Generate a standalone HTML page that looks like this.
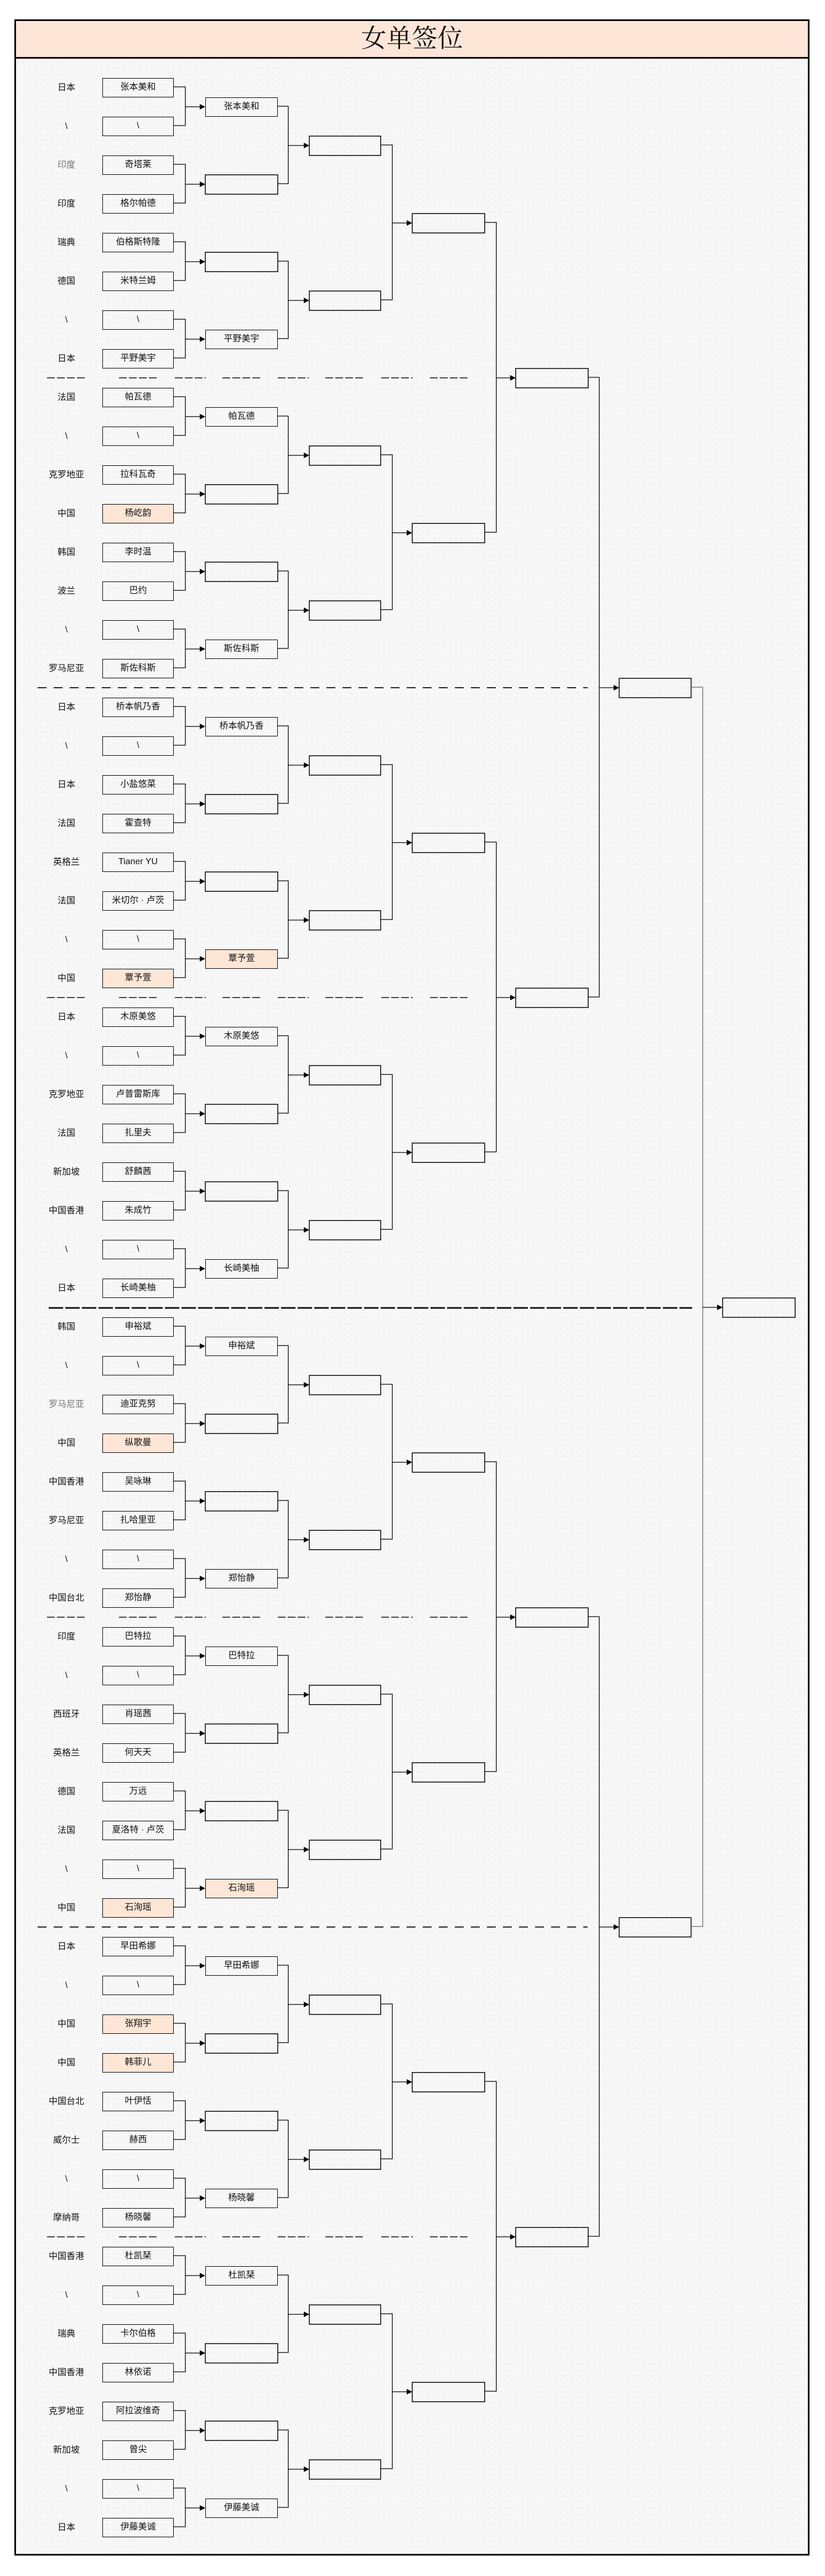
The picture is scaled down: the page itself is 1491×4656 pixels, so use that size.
<!DOCTYPE html>
<html><head><meta charset="utf-8">
<style>
html,body{margin:0;padding:0;background:#fff;}
body{width:1491px;height:4656px;position:relative;overflow:hidden;font-family:"Liberation Sans","Noto Sans CJK SC",sans-serif;}
.frame{position:absolute;left:26px;top:35px;width:1437px;height:4584px;border:3px solid #000;box-sizing:border-box;background-color:#f7f7f7;background-image:radial-gradient(#e2e2e2 0.7px,transparent 0.9px);background-size:10px 10px;}
.header{position:absolute;left:26px;top:35px;width:1437px;height:71px;border:3px solid #000;box-sizing:border-box;background:#fde5d8;text-align:center;font-family:"Liberation Serif","Noto Serif CJK SC",serif;font-size:46px;line-height:64px;color:#111;}
svg{position:absolute;left:0;top:0;}
.c{position:absolute;left:60px;width:120px;height:35px;line-height:35px;text-align:center;font-size:16px;color:#111;}
.b,.b2{position:absolute;height:35px;border:1.5px solid #000;box-sizing:border-box;text-align:center;line-height:32px;font-size:16px;color:#111;background:transparent;}
.b{left:185px;width:129px;}
.b2{left:371px;width:131px;}
.h{background:#fde6d6;}
.g{color:#777;}
</style></head><body>
<div class="frame"></div>
<div class="header">女单签位</div>
<svg id="s" width="1491" height="4656" xmlns="http://www.w3.org/2000/svg"></svg>

<div class="c" style="top:141px">日本</div><div class="b" style="top:141px">张本美和</div>
<div class="c" style="top:211px">\</div><div class="b" style="top:211px">\</div>
<div class="c g" style="top:281px">印度</div><div class="b" style="top:281px">奇塔莱</div>
<div class="c" style="top:351px">印度</div><div class="b" style="top:351px">格尔帕德</div>
<div class="c" style="top:421px">瑞典</div><div class="b" style="top:421px">伯格斯特隆</div>
<div class="c" style="top:491px">德国</div><div class="b" style="top:491px">米特兰姆</div>
<div class="c" style="top:561px">\</div><div class="b" style="top:561px">\</div>
<div class="c" style="top:631px">日本</div><div class="b" style="top:631px">平野美宇</div>
<div class="c" style="top:701px">法国</div><div class="b" style="top:701px">帕瓦德</div>
<div class="c" style="top:771px">\</div><div class="b" style="top:771px">\</div>
<div class="c" style="top:841px">克罗地亚</div><div class="b" style="top:841px">拉科瓦奇</div>
<div class="c" style="top:911px">中国</div><div class="b h" style="top:911px">杨屹韵</div>
<div class="c" style="top:981px">韩国</div><div class="b" style="top:981px">李时温</div>
<div class="c" style="top:1051px">波兰</div><div class="b" style="top:1051px">巴约</div>
<div class="c" style="top:1121px">\</div><div class="b" style="top:1121px">\</div>
<div class="c" style="top:1191px">罗马尼亚</div><div class="b" style="top:1191px">斯佐科斯</div>
<div class="c" style="top:1261px">日本</div><div class="b" style="top:1261px">桥本帆乃香</div>
<div class="c" style="top:1331px">\</div><div class="b" style="top:1331px">\</div>
<div class="c" style="top:1401px">日本</div><div class="b" style="top:1401px">小盐悠菜</div>
<div class="c" style="top:1471px">法国</div><div class="b" style="top:1471px">霍查特</div>
<div class="c" style="top:1541px">英格兰</div><div class="b" style="top:1541px">Tianer YU</div>
<div class="c" style="top:1611px">法国</div><div class="b" style="top:1611px">米切尔 · 卢茨</div>
<div class="c" style="top:1681px">\</div><div class="b" style="top:1681px">\</div>
<div class="c" style="top:1751px">中国</div><div class="b h" style="top:1751px">覃予萱</div>
<div class="c" style="top:1821px">日本</div><div class="b" style="top:1821px">木原美悠</div>
<div class="c" style="top:1891px">\</div><div class="b" style="top:1891px">\</div>
<div class="c" style="top:1961px">克罗地亚</div><div class="b" style="top:1961px">卢普雷斯库</div>
<div class="c" style="top:2031px">法国</div><div class="b" style="top:2031px">扎里夫</div>
<div class="c" style="top:2101px">新加坡</div><div class="b" style="top:2101px">舒麟茜</div>
<div class="c" style="top:2171px">中国香港</div><div class="b" style="top:2171px">朱成竹</div>
<div class="c" style="top:2241px">\</div><div class="b" style="top:2241px">\</div>
<div class="c" style="top:2311px">日本</div><div class="b" style="top:2311px">长崎美柚</div>
<div class="c" style="top:2381px">韩国</div><div class="b" style="top:2381px">申裕斌</div>
<div class="c" style="top:2451px">\</div><div class="b" style="top:2451px">\</div>
<div class="c g" style="top:2521px">罗马尼亚</div><div class="b" style="top:2521px">迪亚克努</div>
<div class="c" style="top:2591px">中国</div><div class="b h" style="top:2591px">纵歌曼</div>
<div class="c" style="top:2661px">中国香港</div><div class="b" style="top:2661px">吴咏琳</div>
<div class="c" style="top:2731px">罗马尼亚</div><div class="b" style="top:2731px">扎哈里亚</div>
<div class="c" style="top:2801px">\</div><div class="b" style="top:2801px">\</div>
<div class="c" style="top:2871px">中国台北</div><div class="b" style="top:2871px">郑怡静</div>
<div class="c" style="top:2941px">印度</div><div class="b" style="top:2941px">巴特拉</div>
<div class="c" style="top:3011px">\</div><div class="b" style="top:3011px">\</div>
<div class="c" style="top:3081px">西班牙</div><div class="b" style="top:3081px">肖瑶茜</div>
<div class="c" style="top:3151px">英格兰</div><div class="b" style="top:3151px">何天天</div>
<div class="c" style="top:3221px">德国</div><div class="b" style="top:3221px">万远</div>
<div class="c" style="top:3291px">法国</div><div class="b" style="top:3291px">夏洛特 · 卢茨</div>
<div class="c" style="top:3361px">\</div><div class="b" style="top:3361px">\</div>
<div class="c" style="top:3431px">中国</div><div class="b h" style="top:3431px">石洵瑶</div>
<div class="c" style="top:3501px">日本</div><div class="b" style="top:3501px">早田希娜</div>
<div class="c" style="top:3571px">\</div><div class="b" style="top:3571px">\</div>
<div class="c" style="top:3641px">中国</div><div class="b h" style="top:3641px">张翔宇</div>
<div class="c" style="top:3711px">中国</div><div class="b h" style="top:3711px">韩菲儿</div>
<div class="c" style="top:3781px">中国台北</div><div class="b" style="top:3781px">叶伊恬</div>
<div class="c" style="top:3851px">威尔士</div><div class="b" style="top:3851px">赫西</div>
<div class="c" style="top:3921px">\</div><div class="b" style="top:3921px">\</div>
<div class="c" style="top:3991px">摩纳哥</div><div class="b" style="top:3991px">杨晓馨</div>
<div class="c" style="top:4061px">中国香港</div><div class="b" style="top:4061px">杜凯琹</div>
<div class="c" style="top:4131px">\</div><div class="b" style="top:4131px">\</div>
<div class="c" style="top:4201px">瑞典</div><div class="b" style="top:4201px">卡尔伯格</div>
<div class="c" style="top:4271px">中国香港</div><div class="b" style="top:4271px">林依诺</div>
<div class="c" style="top:4341px">克罗地亚</div><div class="b" style="top:4341px">阿拉波维奇</div>
<div class="c" style="top:4411px">新加坡</div><div class="b" style="top:4411px">曾尖</div>
<div class="c" style="top:4481px">\</div><div class="b" style="top:4481px">\</div>
<div class="c" style="top:4551px">日本</div><div class="b" style="top:4551px">伊藤美诚</div>

<div class="b2" style="top:176px">张本美和</div>
<div class="b2" style="top:596px">平野美宇</div>
<div class="b2" style="top:736px">帕瓦德</div>
<div class="b2" style="top:1156px">斯佐科斯</div>
<div class="b2" style="top:1296px">桥本帆乃香</div>
<div class="b2 h" style="top:1716px">覃予萱</div>
<div class="b2" style="top:1856px">木原美悠</div>
<div class="b2" style="top:2276px">长崎美柚</div>
<div class="b2" style="top:2416px">申裕斌</div>
<div class="b2" style="top:2836px">郑怡静</div>
<div class="b2" style="top:2976px">巴特拉</div>
<div class="b2 h" style="top:3396px">石洵瑶</div>
<div class="b2" style="top:3536px">早田希娜</div>
<div class="b2" style="top:3956px">杨晓馨</div>
<div class="b2" style="top:4096px">杜凯琹</div>
<div class="b2" style="top:4516px">伊藤美诚</div>

<script>
(function(){
var s=document.getElementById('s'),h='';
var L=[185,371,559,745,932,1119,1306],R=[314,502,688,876,1063,1249,1437],V=[335,521,709,897,1083,1270];
function cy(r,j){var n=1<<r;return 158+(n*j+(n-1)/2)*70;}
var named=[0,3,4,7,8,11,12,15,16,19,20,23,24,27,28,31];
for(var r=1;r<=6;r++){var n=64>>r;for(var j=0;j<n;j++){if(r==1&&named.indexOf(j)>=0)continue;var y=cy(r,j)-17;h+='<rect x="'+L[r]+'" y="'+y+'" width="'+(R[r]-L[r])+'" height="35" fill="none" stroke="#000" stroke-width="1.5"/>';}}
for(var r=0;r<=5;r++){var n=64>>r;var xr=R[r],xv=V[r],xn=L[r+1];var col=(r==5)?'#666':'#000';
for(var k=0;k<n/2;k++){var y1=cy(r,2*k)-1,y2=cy(r,2*k+1)-1,ym=cy(r+1,k);
h+='<path d="M'+xr+' '+y1+'H'+xv+'V'+y2+'H'+xr+'" fill="none" stroke="'+col+'" stroke-width="1.3"/>';
h+='<line x1="'+xv+'" y1="'+ym+'" x2="'+(xn-9)+'" y2="'+ym+'" stroke="#000" stroke-width="1.3"/>';
h+='<polygon points="'+(xn-10)+','+(ym-5)+' '+xn+','+ym+' '+(xn-10)+','+(ym+5)+'" fill="#000"/>';}}
var G=[[85,154],[215,285],[316,372],[402,471],[502,558],[588,658],[689,746],[777,846]];
[683,1803,2923,4043].forEach(function(y){G.forEach(function(g){h+='<line x1="'+g[0]+'" y1="'+y+'" x2="'+g[1]+'" y2="'+y+'" stroke="#444" stroke-width="2" stroke-dasharray="14 4"/>';});});
[1243,3483].forEach(function(y){h+='<line x1="68" y1="'+y+'" x2="1062" y2="'+y+'" stroke="#222" stroke-width="2" stroke-dasharray="16 13"/>';});
h+='<line x1="88" y1="2364" x2="1251" y2="2364" stroke="#111" stroke-width="3" stroke-dasharray="26 4"/>';
s.innerHTML=h;
})();
</script>
</body></html>
